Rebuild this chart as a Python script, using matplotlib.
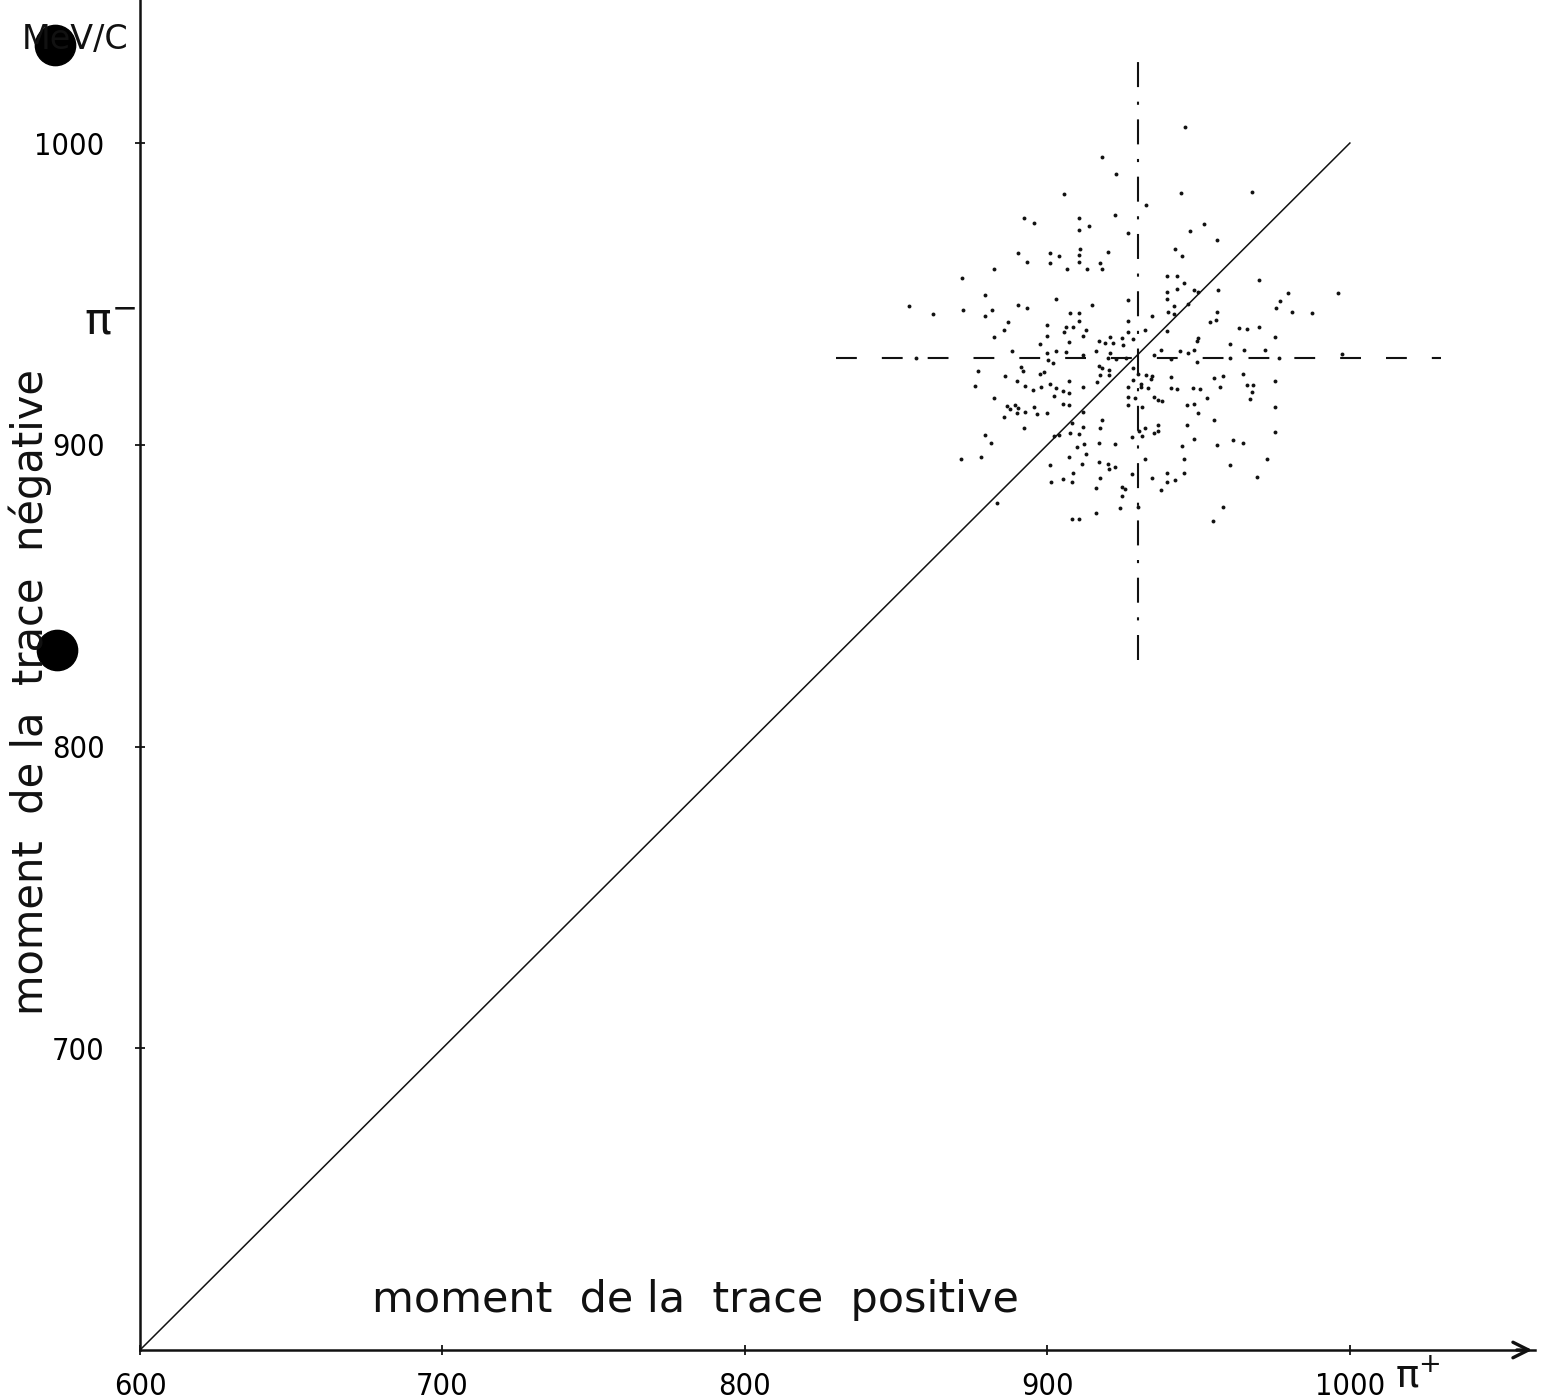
import numpy as np
import matplotlib
matplotlib.use("Agg")
import matplotlib.pyplot as plt
from matplotlib.lines import Line2D

# ── Data (MeV/c) ───────────────────────────────────────────────────────────
x_ticks = [600, 700, 800, 900, 1000]
y_ticks = [700, 800, 900, 1000]

# diagonal p+ = p-
diag_x = [600, 1000]
diag_y = [600, 1000]

# dashed cross (beam momentum) : centre and half-length
cross_x, cross_y = 930.1, 928.8
cross_half = 100.0

# measured events : moment positive / moment negative
pos_moment = [
    892.4, 895.7, 945.6, 918.2, 922.8, 905.6, 944.0, 932.7, 910.3, 922.5, 913.6,
    910.6, 926.8, 947.3, 910.9, 942.3, 967.5, 951.9, 956.2,
    890.4, 901.0, 893.1, 901.0, 882.5, 871.6, 879.2, 854.4, 862.3, 872.2, 881.8,
    879.5, 890.4, 893.4, 887.1, 885.8, 900.0, 900.0, 882.2, 897.7, 888.4, 899.7,
    856.7, 900.3, 876.9, 891.4, 891.8, 886.1, 899.0, 897.7, 876.2, 890.1, 892.7,
    895.1, 898.0, 900.7,
    903.7, 910.3, 919.9, 944.6, 910.6, 917.5, 906.6, 913.2, 917.9, 939.4, 942.7,
    945.3, 939.7, 943.0, 948.6, 949.9, 903.0, 926.8, 939.4, 914.9, 946.6, 941.7,
    940.0, 941.7, 907.6, 910.3, 934.7, 926.8, 910.3, 906.0, 908.6, 912.6, 905.6,
    932.4, 926.5, 939.7, 924.8, 928.4, 911.9, 920.8, 907.3, 916.9, 918.9, 921.8,
    925.1, 949.9, 949.6, 902.7, 906.0, 915.9, 920.8, 911.6, 919.9, 922.8, 926.1,
    935.4, 937.4, 943.7, 946.6, 948.3, 941.0, 949.6, 901.7, 917.2, 917.9, 920.5,
    928.4, 917.5, 920.5, 930.1, 932.7, 934.7, 941.0, 907.3, 916.5, 928.4, 931.1,
    934.4, 902.7, 911.6, 926.8, 930.8, 933.4, 941.0, 942.7, 948.0, 950.3,
    970.1, 956.5, 979.7, 996.2, 977.0, 975.7, 980.7, 987.6, 956.2, 953.9, 955.6,
    963.2, 966.1, 970.1, 975.1, 960.2, 965.1, 971.8, 960.2, 976.7, 997.5, 955.2,
    957.9, 964.8, 956.9, 966.1, 968.1, 975.1,
    882.5, 886.5, 887.5, 889.4, 890.4, 895.7, 885.8, 890.1, 892.7, 896.7, 900.0,
    892.1, 879.2, 881.2, 871.3, 877.9, 900.7, 901.3, 883.2,
    902.3, 905.3, 907.0, 905.0, 907.3, 926.5, 928.8, 926.8, 931.4, 935.4, 936.4,
    938.0, 946.0, 948.6, 949.9, 911.6, 908.0, 911.6, 917.9, 917.5, 902.3, 903.7,
    907.6, 910.3, 930.4, 932.1, 936.7, 935.1, 936.4, 928.1, 931.4, 946.3, 948.3,
    916.9, 922.2, 909.9, 912.2, 912.6, 944.6, 907.3, 911.3, 917.2, 919.9, 920.5,
    922.5, 932.1, 945.0, 927.8, 939.7, 945.3, 908.3, 905.3, 908.0, 917.5, 934.7,
    939.7, 942.3, 916.2, 924.5, 925.8, 937.7, 924.8, 924.1, 929.8, 915.9, 908.0,
    910.3,
    967.8, 952.6, 967.1, 975.1, 955.2, 975.1, 961.5, 964.5, 956.2, 972.7, 960.5,
    969.4, 957.9, 954.9,
]
neg_moment = [
    975.2, 973.5, 1005.4, 995.4, 989.8, 983.1, 983.5, 979.5, 975.2, 976.2, 972.5,
    971.2, 970.2, 970.9, 964.9, 964.9, 983.8, 973.2, 967.9,
    963.6, 963.6, 960.6, 960.3, 958.3, 955.3, 949.7, 946.0, 943.4, 944.7, 944.7,
    942.7, 946.4, 945.4, 940.7, 938.1, 939.7, 936.1, 935.8, 933.4, 931.1, 930.5,
    928.8, 928.1, 924.5, 925.8, 924.5, 922.8, 924.2, 923.5, 919.5, 921.2, 919.5,
    918.2, 919.2, 920.2,
    962.6, 962.9, 963.9, 962.6, 960.6, 960.3, 958.3, 958.3, 958.3, 956.0, 956.0,
    953.7, 950.7, 951.7, 951.3, 950.7, 948.4, 948.0, 948.4, 946.4, 946.7, 946.0,
    944.0, 943.4, 943.7, 943.7, 942.7, 941.1, 941.1, 939.1, 939.1, 938.1, 937.4,
    938.1, 937.4, 937.7, 935.4, 935.1, 936.1, 935.8, 934.1, 934.4, 933.8, 933.8,
    933.1, 935.4, 934.4, 931.1, 930.8, 931.1, 930.5, 929.8, 928.8, 928.5, 928.8,
    929.8, 931.5, 931.1, 930.5, 931.5, 928.5, 927.5, 927.1, 926.1, 925.5, 924.8,
    925.5, 923.2, 923.2, 923.5, 923.2, 922.8, 922.5, 921.2, 920.8, 921.5, 920.2,
    921.8, 918.9, 919.2, 919.2, 919.2, 918.9, 918.9, 918.5, 918.9, 918.5,
    954.6, 951.3, 950.3, 950.3, 947.7, 945.4, 944.0, 943.7, 944.0, 940.7, 941.4,
    938.7, 938.4, 939.1, 935.8, 933.4, 931.5, 931.5, 928.8, 928.8, 930.1, 922.2,
    922.8, 923.5, 919.2, 919.9, 919.9, 921.2,
    915.5, 912.9, 911.9, 913.2, 912.2, 912.6, 909.2, 910.6, 910.9, 910.2, 910.6,
    905.6, 903.3, 900.6, 895.3, 896.0, 893.3, 887.7, 880.7,
    916.2, 917.9, 917.2, 913.6, 913.2, 915.9, 915.5, 913.2, 912.6, 915.9, 914.9,
    914.6, 913.2, 913.6, 910.6, 910.9, 907.3, 905.9, 908.3, 905.6, 903.0, 903.3,
    903.9, 903.6, 904.6, 905.6, 906.6, 903.9, 904.6, 902.6, 903.0, 906.6, 902.0,
    900.6, 900.3, 899.3, 900.3, 897.0, 899.6, 896.0, 893.7, 894.3, 893.7, 892.0,
    892.7, 895.3, 895.3, 890.4, 890.7, 890.7, 890.7, 888.7, 887.7, 889.0, 889.0,
    887.7, 888.4, 885.7, 886.0, 885.4, 885.1, 883.1, 879.1, 879.4, 877.4, 875.4,
    875.4,
    917.5, 915.5, 915.2, 912.6, 908.3, 904.3, 901.6, 900.6, 900.0, 895.3, 893.3,
    889.4, 879.4, 874.8,
]

W, H = 1541, 1400
INK = "#111111"
LETTER = ["DejaVu Sans"]

fig = plt.figure(figsize=(W / 100, H / 100), dpi=100, facecolor="white")
ax = fig.add_axes([140 / W, 50 / H, 1395 / W, 1350 / H])
ax.set_xlim(600, 1061.2)
ax.set_ylim(600, 1047.4)

# ── axes : only left and bottom, arrow on x ────────────────────────────────
for side in ["top", "right"]:
    ax.spines[side].set_visible(False)
for side in ["left", "bottom"]:
    ax.spines[side].set_linewidth(1.8)
    ax.spines[side].set_color(INK)
ax.annotate("", xy=(1.0, 0), xytext=(0.985, 0), xycoords="axes fraction",
            arrowprops=dict(arrowstyle="->", lw=2.4, color=INK,
                            mutation_scale=28))

ax.set_xticks(x_ticks)
ax.set_xticklabels([str(v) for v in x_ticks], family="DejaVu Sans",
                   fontstretch="condensed", fontsize=22)
ax.set_yticks(y_ticks)
ax.set_yticklabels([str(v) for v in y_ticks], family="DejaVu Sans",
                   fontstretch="condensed", fontsize=22)
ax.tick_params(axis="x", direction="inout", length=7, width=1.2, pad=12)
ax.tick_params(axis="y", direction="inout", length=7, width=1.2, pad=22)

# ── diagonal, cross and events ─────────────────────────────────────────────
ax.plot(diag_x, diag_y, color=INK, lw=1.1)
ax.plot([cross_x, cross_x], [cross_y - cross_half, cross_y + cross_half],
        color=INK, lw=1.5, dashes=(12, 7, 1.5, 7))
ax.plot([cross_x - cross_half, cross_x + cross_half], [cross_y, cross_y],
        color=INK, lw=1.5, dashes=(10, 12))
ax.plot(pos_moment, neg_moment, "o", color=INK, markersize=2.8,
        markeredgewidth=0, linestyle="none")

# ── labels ─────────────────────────────────────────────────────────────────
fig.text(695 / W, 1 - 1300 / H, "moment  de la  trace  positive",
         ha="center", va="center", fontsize=31, family=LETTER, color=INK)
fig.text(30 / W, 1 - 692 / H, "moment  de la  trace  négative",
         ha="center", va="center", rotation=90, fontsize=30, family=LETTER,
         color=INK)
fig.text(75 / W, 1 - 40 / H, "MeV/C", ha="center", va="center",
         fontsize=24, family=LETTER, color=INK)
fig.text(110 / W, 1 - 322 / H, "π$^{-}$", ha="center", va="center",
         fontsize=32, family=LETTER, color=INK)
fig.text(1418 / W, 1 - 1376 / H, "π$^{+}$", ha="center", va="center",
         fontsize=28, family=LETTER, color=INK)

# punch-hole marks of the scanned sheet
for px, py in [(55, 45), (57, 650)]:
    fig.add_artist(Line2D([px / W], [1 - py / H], marker="o", markersize=29,
                          color="black", transform=fig.transFigure))

fig.savefig("out.png", dpi=100)
